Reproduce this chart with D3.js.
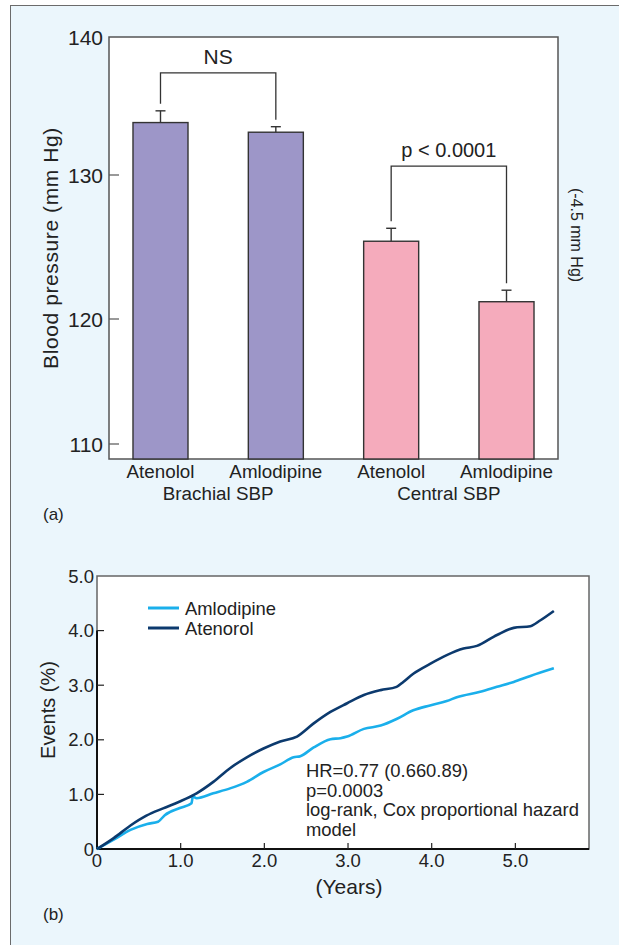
<!DOCTYPE html>
<html>
<head>
<meta charset="utf-8">
<script src="https://cdn.jsdelivr.net/npm/d3@7"></script>
<style>
  body { margin: 0; background: #fff; }
  svg { display: block; font-family: "Liberation Sans", Arial, Helvetica, sans-serif; }
</style>
</head>
<body>
<svg width="619" height="945"></svg>
<script>
/* (a) blood pressure bars */
const bpCategories = ["Atenolol", "Amlodipine", "Atenolol", "Amlodipine"];
const bpGroups = ["Brachial SBP", "Central SBP"];
const bpMeans = [133.8, 133.1, 125.4, 121.2];
const bpErrors = [0.85, 0.4, 0.9, 0.8];
const bpTicks = [110, 120, 130, 140];
const bpCompare = [
  {from: 0, to: 1, top: 137.4, label: "NS"},
  {from: 2, to: 3, top: 130.65, label: "p < 0.0001"}
];

/* (b) cumulative events */
const amloYears = [0, 0.2, 0.4, 0.6, 0.73, 0.81, 0.99, 1.13, 1.145, 1.19, 1.39, 1.59, 1.79, 1.99, 2.19, 2.35, 2.43, 2.59, 2.79, 2.91, 2.99, 3.19, 3.39, 3.58, 3.78, 3.98, 4.18, 4.3, 4.58, 4.78, 4.98, 5.18, 5.46];
const amloEvents = [0, 0.17, 0.35, 0.46, 0.5, 0.62, 0.75, 0.84, 0.96, 0.93, 1.02, 1.11, 1.23, 1.41, 1.55, 1.68, 1.7, 1.86, 2.01, 2.03, 2.06, 2.2, 2.26, 2.38, 2.54, 2.63, 2.71, 2.78, 2.88, 2.97, 3.06, 3.17, 3.31];
const atenYears = [0, 0.2, 0.4, 0.59, 0.79, 0.99, 1.19, 1.39, 1.59, 1.79, 1.99, 2.19, 2.39, 2.59, 2.79, 2.99, 3.19, 3.39, 3.58, 3.66, 3.78, 3.98, 4.18, 4.38, 4.54, 4.78, 4.98, 5.18, 5.3, 5.46];
const atenEvents = [0, 0.2, 0.43, 0.61, 0.745, 0.87, 1.02, 1.23, 1.48, 1.68, 1.84, 1.97, 2.06, 2.3, 2.51, 2.67, 2.82, 2.91, 2.97, 3.06, 3.21, 3.39, 3.55, 3.67, 3.72, 3.92, 4.05, 4.08, 4.19, 4.36];
const evYTicks = [0, 1, 2, 3, 4, 5];
const evXTicks = [0, 1, 2, 3, 4, 5];
const legendNames = ["Amlodipine", "Atenorol"];
const statLines = ["HR=0.77 (0.660.89)", "p=0.0003", "log-rank, Cox proportional hazard", "model"];

const svg = d3.select("svg");
const ink = "#222";

// panel background
svg.append("rect").attr("x", 10.5).attr("y", 5.5).attr("width", 620).attr("height", 945)
  .attr("fill", "#ebf6fc").attr("stroke", "#6b6b6b").attr("stroke-width", 1);

/* ---------- (a) ---------- */
const a = {left: 109, right: 558, top: 37, bottom: 459};

// the printed axis is not evenly spaced, so map tick by tick
const y1 = d3.scaleLinear().domain(bpTicks).range([444, 319, 175, 37]);
const x1 = d3.scaleBand().domain(d3.range(bpCategories.length))
  .range([a.left, a.right]).paddingInner(0.523).paddingOuter(0.208);

const gA = svg.append("g");
gA.append("rect").attr("x", a.left).attr("y", a.top)
  .attr("width", a.right - a.left).attr("height", a.bottom - a.top)
  .attr("fill", "#fff").attr("stroke", "#555").attr("stroke-width", 1.5);

// ticks inside the frame
gA.selectAll(".ytick").data(bpTicks.slice(0, 3)).join("line")
  .attr("x1", a.left).attr("x2", a.left + 10)
  .attr("y1", d => y1(d)).attr("y2", d => y1(d))
  .attr("stroke", "#555").attr("stroke-width", 1.2);
gA.selectAll(".ylab").data(bpTicks).join("text")
  .attr("x", a.left - 6).attr("y", d => y1(d)).attr("dy", "0.36em")
  .attr("text-anchor", "end").attr("font-size", 21).attr("fill", ink)
  .text(d => d);

const barColors = ["#9d96c8", "#9d96c8", "#f5abbc", "#f5abbc"];
gA.selectAll(".bar").data(bpMeans).join("rect")
  .attr("x", (d, i) => x1(i)).attr("width", x1.bandwidth())
  .attr("y", d => y1(d)).attr("height", d => a.bottom - y1(d))
  .attr("fill", (d, i) => barColors[i]).attr("stroke", "#333").attr("stroke-width", 1.4);

// error bars
bpMeans.forEach((m, i) => {
  const cx = x1(i) + x1.bandwidth() / 2;
  gA.append("line").attr("x1", cx).attr("x2", cx).attr("y1", y1(m)).attr("y2", y1(m + bpErrors[i]))
    .attr("stroke", "#333").attr("stroke-width", 1.4);
  gA.append("line").attr("x1", cx - 5).attr("x2", cx + 5)
    .attr("y1", y1(m + bpErrors[i])).attr("y2", y1(m + bpErrors[i]))
    .attr("stroke", "#333").attr("stroke-width", 1.4);
});

// comparison brackets
bpCompare.forEach((c, k) => {
  const xa = x1(c.from) + x1.bandwidth() / 2, xb = x1(c.to) + x1.bandwidth() / 2;
  const ya = y1(bpMeans[c.from] + bpErrors[c.from]) - 7;
  const yb = y1(bpMeans[c.to] + bpErrors[c.to]) - 7;
  const yt = y1(c.top);
  gA.append("path").attr("d", `M${xa},${ya}V${yt}H${xb}V${yb}`)
    .attr("fill", "none").attr("stroke", "#333").attr("stroke-width", 1.3);
  gA.append("text").attr("x", (xa + xb) / 2).attr("y", yt - 9)
    .attr("text-anchor", "middle").attr("font-size", k === 0 ? 21 : 20).attr("fill", ink).text(c.label);
});

gA.selectAll(".xlab").data(bpCategories).join("text")
  .attr("x", (d, i) => x1(i) + x1.bandwidth() / 2).attr("y", a.bottom + 19)
  .attr("text-anchor", "middle").attr("font-size", 18.8).attr("fill", ink).text(d => d);
gA.selectAll(".glab").data(bpGroups).join("text")
  .attr("x", (d, i) => (x1(2 * i) + x1(2 * i + 1) + x1.bandwidth()) / 2).attr("y", a.bottom + 41)
  .attr("text-anchor", "middle").attr("font-size", 18.8).attr("fill", ink).text(d => d);

gA.append("text").attr("transform", "translate(58,248) rotate(-90)")
  .attr("text-anchor", "middle").attr("font-size", 21).attr("letter-spacing", 0.6)
  .attr("fill", ink).text("Blood pressure (mm Hg)");
gA.append("text").attr("transform", "translate(571,235) rotate(90)")
  .attr("text-anchor", "middle").attr("font-size", 16).attr("fill", ink).text("(-4.5 mm Hg)");
gA.append("text").attr("x", 43).attr("y", 520).attr("font-size", 17).attr("fill", ink).text("(a)");

/* ---------- (b) ---------- */
const b = {left: 97, right: 589, top: 576, bottom: 849};
const x2 = d3.scaleLinear().domain([0, 5.88]).range([b.left, b.right]);
const y2 = d3.scaleLinear().domain([0, 5]).range([b.bottom, b.top]);

const gB = svg.append("g");
gB.append("rect").attr("x", b.left).attr("y", b.top)
  .attr("width", b.right - b.left).attr("height", b.bottom - b.top)
  .attr("fill", "#fff").attr("stroke", "#666").attr("stroke-width", 1.5);
gB.append("line").attr("x1", b.left).attr("x2", b.left).attr("y1", y2(4)).attr("y2", b.bottom)
  .attr("stroke", "#111").attr("stroke-width", 2);
gB.append("line").attr("x1", b.left).attr("x2", b.right).attr("y1", b.bottom).attr("y2", b.bottom)
  .attr("stroke", "#111").attr("stroke-width", 2.2);

gB.selectAll(".yt").data(evYTicks.slice(1, 5)).join("line")
  .attr("x1", b.left).attr("x2", b.left + 7).attr("y1", d => y2(d)).attr("y2", d => y2(d))
  .attr("stroke", ink).attr("stroke-width", 1.2);
gB.selectAll(".xt").data(evXTicks.slice(1)).join("line")
  .attr("x1", d => x2(d)).attr("x2", d => x2(d)).attr("y1", b.bottom).attr("y2", b.bottom - 6)
  .attr("stroke", ink).attr("stroke-width", 1.2);

gB.selectAll(".yl").data(evYTicks).join("text")
  .attr("x", b.left - 3).attr("y", d => y2(d)).attr("dy", "0.36em")
  .attr("text-anchor", "end").attr("font-size", 18.5).attr("fill", ink)
  .text(d => d === 0 ? "0" : d.toFixed(1));
gB.selectAll(".xl").data(evXTicks).join("text")
  .attr("x", d => x2(d)).attr("y", b.bottom + 18)
  .attr("text-anchor", "middle").attr("font-size", 18.5).attr("fill", ink)
  .text(d => d === 0 ? "0" : d.toFixed(1));

gB.append("text").attr("transform", "translate(55,710) rotate(-90)")
  .attr("text-anchor", "middle").attr("font-size", 20).attr("fill", ink).text("Events (%)");
gB.append("text").attr("x", 349).attr("y", 894)
  .attr("text-anchor", "middle").attr("font-size", 21).attr("fill", ink).text("(Years)");
gB.append("text").attr("x", 43).attr("y", 920).attr("font-size", 17).attr("fill", ink).text("(b)");

const line = d3.line().x(d => x2(d[0])).y(d => y2(d[1])).curve(d3.curveMonotoneX);
const lineColors = ["#1aafeb", "#0c3a6e"];
gB.append("path").datum(d3.zip(amloYears, amloEvents)).attr("d", line)
  .attr("fill", "none").attr("stroke", lineColors[0]).attr("stroke-width", 2.6);
gB.append("path").datum(d3.zip(atenYears, atenEvents)).attr("d", line)
  .attr("fill", "none").attr("stroke", lineColors[1]).attr("stroke-width", 2.6);

legendNames.forEach((n, i) => {
  const ly = 608 + i * 20;
  gB.append("line").attr("x1", 148).attr("x2", 179).attr("y1", ly).attr("y2", ly)
    .attr("stroke", lineColors[i]).attr("stroke-width", 3);
  gB.append("text").attr("x", 185).attr("y", ly).attr("dy", "0.36em")
    .attr("font-size", 18.4).attr("fill", ink).text(n);
});

gB.selectAll(".stat").data(statLines).join("text")
  .attr("x", 306).attr("y", (d, i) => 777 + i * 19.7)
  .attr("font-size", 18.4).attr("fill", ink).text(d => d);
</script>
</body>
</html>
